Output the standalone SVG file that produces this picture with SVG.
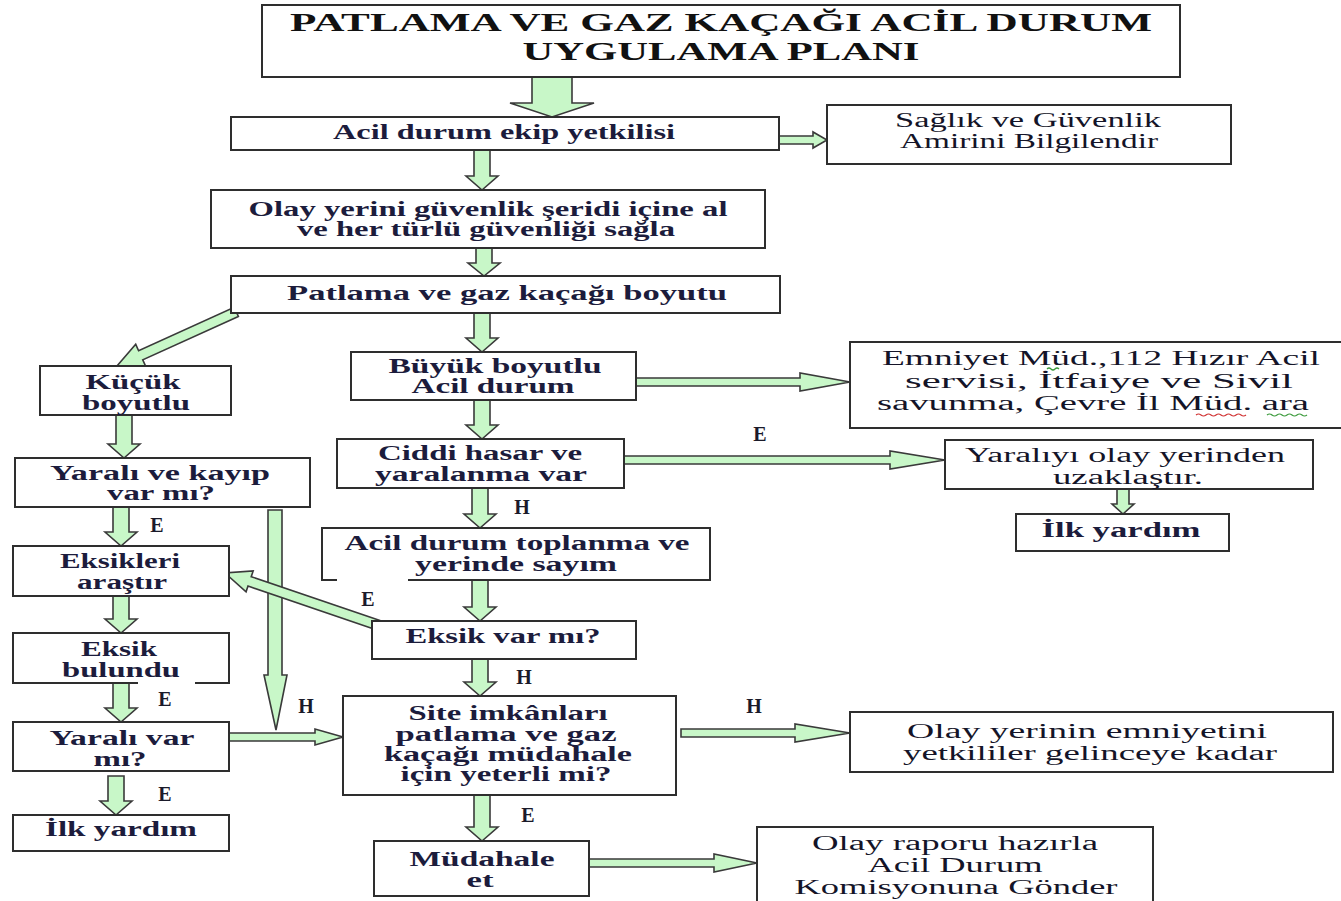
<svg xmlns="http://www.w3.org/2000/svg" width="1341" height="901" viewBox="0 0 1341 901">
<style>
.box{fill:#fff;stroke:#2e2e2e;stroke-width:2}
.edge{fill:none;stroke:#2e2e2e;stroke-width:2}
.arr{fill:#c8f7c8;stroke:#3a3a3a;stroke-width:1.6;stroke-linejoin:miter}
.t{font-family:"Liberation Serif","Times New Roman",serif;font-size:20.5px;font-weight:bold;fill:#1c1c3c;text-anchor:middle}
.n{font-weight:normal;font-size:20px;fill:#141428}
.ti{font-family:"Liberation Serif","Times New Roman",serif;font-size:25px;font-weight:bold;fill:#111;text-anchor:middle}
.lbl{font-family:"Liberation Serif","Times New Roman",serif;font-size:20px;font-weight:bold;fill:#1a1a2a;text-anchor:middle}
.sq{fill:none;stroke-width:1.2}
</style>
<rect width="1341" height="901" fill="#fff"/>

<g id="connectors">
  <polygon class="arr" points="532,77 572,77 572,103 594,103 552,117 510,103 532,103"/>
  <polygon class="arr" points="474,150 490,150 490,176 498,176 482,190 466,176 474,176"/>
  <polygon class="arr" points="476,248 492,248 492,263 500,263 484,276 468,263 476,263"/>
  <polygon class="arr" points="474,313 490,313 490,338 498,338 482,352 466,338 474,338"/>
  <polygon class="arr" points="474,400 490,400 490,425 498,425 482,439 466,425 474,425"/>
  <polygon class="arr" points="472,488 488,488 488,514 496,514 480,528 464,514 472,514"/>
  <polygon class="arr" points="472,580 488,580 488,607 496,607 480,621 464,607 472,607"/>
  <polygon class="arr" points="472,659 488,659 488,682 496,682 480,696 464,682 472,682"/>
  <polygon class="arr" points="474,795 490,795 490,827 498,827 482,841 466,827 474,827"/>
  <polygon class="arr" points="116,415 132,415 132,444 140,444 124,458 108,444 116,444"/>
  <polygon class="arr" points="113,507 129,507 129,532 137,532 121,546 105,532 113,532"/>
  <polygon class="arr" points="113,596 129,596 129,619 137,619 121,633 105,619 113,619"/>
  <polygon class="arr" points="113,683 129,683 129,708 137,708 121,722 105,708 113,708"/>
  <polygon class="arr" points="108,776 124,776 124,801 132,801 116,815 100,801 108,801"/>
  <polygon class="arr" points="1117,489 1129,489 1129,504 1134,504 1123,514 1112,504 1117,504"/>
  <polygon class="arr" points="268,510 282,510 282,675 287,675 276,730 264,675 268,675"/>
  <polygon class="arr" points="779,136 813,136 813,132 827,140 813,148 813,144 779,144"/>
  <polygon class="arr" points="636,378 800,378 800,373 850,382 800,391 800,386 636,386"/>
  <polygon class="arr" points="624,456 890,456 890,451 945,460 890,469 890,464 624,464"/>
  <polygon class="arr" points="229,733 315,733 315,729 343,737 315,745 315,741 229,741"/>
  <polygon class="arr" points="681,729 795,729 795,724 850,733 795,742 795,737 681,737"/>
  <polygon class="arr" points="589,859 714,859 714,854 757,863 714,872 714,867 589,867"/>
  <polygon class="arr" transform="translate(117,366) rotate(155.6)" points="-131,-5 -26,-5 -26,-12 0,0 -26,12 -26,5 -131,5"/>
  <polygon class="arr" transform="translate(225,573) rotate(198.8)" points="-162,-5 -26,-5 -26,-11 0,0 -26,11 -26,5 -162,5"/>
  <text class="lbl" x="760" y="441">E</text>
  <text class="lbl" x="522" y="514">H</text>
  <text class="lbl" x="157" y="532">E</text>
  <text class="lbl" x="368" y="606">E</text>
  <text class="lbl" x="524" y="684">H</text>
  <text class="lbl" x="306" y="713">H</text>
  <text class="lbl" x="165" y="706">E</text>
  <text class="lbl" x="754" y="713">H</text>
  <text class="lbl" x="165" y="801">E</text>
  <text class="lbl" x="528" y="822">E</text>
</g>

<g id="title">
  <rect class="box" x="262" y="5" width="918" height="72"/>
  <text class="ti" x="721" y="31" textLength="862" lengthAdjust="spacingAndGlyphs">PATLAMA VE GAZ KAÇAĞI ACİL DURUM</text>
  <text class="ti" x="721" y="60" textLength="397" lengthAdjust="spacingAndGlyphs">UYGULAMA PLANI</text>
</g>

<g id="acil-durum-ekip">
  <rect class="box" x="231" y="117" width="548" height="33"/>
  <text class="t" x="504" y="139" textLength="342" lengthAdjust="spacingAndGlyphs">Acil  durum ekip yetkilisi</text>
</g>

<g id="saglik-guvenlik">
  <rect class="box" x="827" y="105" width="404" height="59"/>
  <text class="t n" x="1028" y="127" textLength="266" lengthAdjust="spacingAndGlyphs">Sağlık ve Güvenlik</text>
  <text class="t n" x="1029" y="148" textLength="258" lengthAdjust="spacingAndGlyphs">Amirini  Bilgilendir</text>
</g>

<g id="olay-yerini">
  <rect class="box" x="211" y="190" width="554" height="58"/>
  <text class="t" x="488" y="216" textLength="479" lengthAdjust="spacingAndGlyphs">Olay yerini güvenlik şeridi içine al</text>
  <text class="t" x="486" y="236" textLength="378" lengthAdjust="spacingAndGlyphs">ve her türlü güvenliği  sağla</text>
</g>

<g id="patlama-boyutu">
  <rect class="box" x="231" y="276" width="549" height="37"/>
  <text class="t" x="507" y="300" textLength="440" lengthAdjust="spacingAndGlyphs">Patlama ve gaz kaçağı  boyutu</text>
</g>

<g id="kucuk-boyutlu">
  <rect class="box" x="40" y="366" width="191" height="49"/>
  <text class="t" x="133" y="389" textLength="95" lengthAdjust="spacingAndGlyphs">Küçük</text>
  <text class="t" x="136" y="410" textLength="108" lengthAdjust="spacingAndGlyphs">boyutlu</text>
</g>

<g id="buyuk-boyutlu">
  <rect class="box" x="351" y="352" width="285" height="48"/>
  <text class="t" x="495" y="373" textLength="213" lengthAdjust="spacingAndGlyphs">Büyük boyutlu</text>
  <text class="t" x="493" y="393" textLength="163" lengthAdjust="spacingAndGlyphs">Acil  durum</text>
</g>

<g id="emniyet">
  <rect class="box" x="850" y="342" width="495" height="86"/>
  <text class="t n" x="1101" y="365" textLength="438" lengthAdjust="spacingAndGlyphs">Emniyet Müd.,112 Hızır Acil</text>
  <text class="t n" x="1099" y="388" textLength="388" lengthAdjust="spacingAndGlyphs">servisi, İtfaiye ve Sivil</text>
  <text class="t n" x="1093" y="410" textLength="432" lengthAdjust="spacingAndGlyphs">savunma,  Çevre İl Müd. ara</text>
  <path class="sq" stroke="#3a9a3a" d="M1047,369 q2,-2 4,0 t4,0 t4,0"/>
  <path class="sq" stroke="#d03030" d="M1196,415 q2.5,-2 5,0 t5,0 t5,0 t5,0 t5,0 t5,0 t5,0 t5,0 t5,0 t5,0"/>
  <path class="sq" stroke="#3a9a3a" d="M1267,415 q2.5,-2 5,0 t5,0 t5,0 t5,0 t5,0 t5,0 t5,0 t5,0"/>
</g>

<g id="ciddi-hasar">
  <rect class="box" x="337" y="439" width="287" height="49"/>
  <text class="t" x="480" y="460" textLength="204" lengthAdjust="spacingAndGlyphs">Ciddi hasar ve</text>
  <text class="t" x="481" y="481" textLength="212" lengthAdjust="spacingAndGlyphs">yaralanma var</text>
</g>

<g id="yaraliyi-uzaklastir">
  <rect class="box" x="945" y="440" width="368" height="49"/>
  <text class="t n" x="1125" y="462" textLength="320" lengthAdjust="spacingAndGlyphs">Yaralıyı olay yerinden</text>
  <text class="t n" x="1128" y="484" textLength="150" lengthAdjust="spacingAndGlyphs">uzaklaştır.</text>
</g>

<g id="ilk-yardim-sag">
  <rect class="box" x="1016" y="514" width="213" height="37"/>
  <text class="t" x="1121" y="537" textLength="159" lengthAdjust="spacingAndGlyphs">İlk yardım</text>
</g>

<g id="yarali-kayip">
  <rect class="box" x="15" y="458" width="295" height="49"/>
  <text class="t" x="160" y="480" textLength="220" lengthAdjust="spacingAndGlyphs">Yaralı ve kayıp</text>
  <text class="t" x="161" y="500" textLength="108" lengthAdjust="spacingAndGlyphs">var mı?</text>
</g>

<g id="toplanma-sayim">
  <path class="edge" d="M337,580 L322,580 L322,528 L710,528 L710,580 L408,580"/>
  <text class="t" x="517" y="550" textLength="345" lengthAdjust="spacingAndGlyphs">Acil  durum toplanma ve</text>
  <text class="t" x="516" y="571" textLength="202" lengthAdjust="spacingAndGlyphs">yerinde sayım</text>
</g>

<g id="eksikleri-arastir">
  <rect class="box" x="13" y="546" width="216" height="50"/>
  <text class="t" x="120" y="568" textLength="120" lengthAdjust="spacingAndGlyphs">Eksikleri</text>
  <text class="t" x="122" y="589" textLength="90" lengthAdjust="spacingAndGlyphs">araştır</text>
</g>

<g id="eksik-var-mi">
  <rect class="box" x="372" y="621" width="264" height="38"/>
  <text class="t" x="503" y="643" textLength="195" lengthAdjust="spacingAndGlyphs">Eksik var mı?</text>
</g>

<g id="eksik-bulundu">
  <path class="edge" d="M138,683 L13,683 L13,633 L229,633 L229,683 L195,683"/>
  <text class="t" x="119" y="656" textLength="76" lengthAdjust="spacingAndGlyphs">Eksik</text>
  <text class="t" x="121" y="677" textLength="118" lengthAdjust="spacingAndGlyphs">bulundu</text>
</g>

<g id="site-imkanlari">
  <rect class="box" x="343" y="696" width="333" height="99"/>
  <text class="t" x="508" y="720" textLength="199" lengthAdjust="spacingAndGlyphs">Site imkânları</text>
  <text class="t" x="506" y="741" textLength="221" lengthAdjust="spacingAndGlyphs">patlama ve gaz</text>
  <text class="t" x="508" y="761" textLength="248" lengthAdjust="spacingAndGlyphs">kaçağı müdahale</text>
  <text class="t" x="506" y="781" textLength="211" lengthAdjust="spacingAndGlyphs">için yeterli mi?</text>
</g>

<g id="olay-yerinin-emniyeti">
  <rect class="box" x="850" y="712" width="483" height="60"/>
  <text class="t n" x="1087" y="738" textLength="360" lengthAdjust="spacingAndGlyphs">Olay yerinin emniyetini</text>
  <text class="t n" x="1090" y="760" textLength="374" lengthAdjust="spacingAndGlyphs">yetkililer gelinceye kadar</text>
</g>

<g id="yarali-var-mi">
  <rect class="box" x="13" y="722" width="216" height="49"/>
  <text class="t" x="122" y="745" textLength="145" lengthAdjust="spacingAndGlyphs">Yaralı var</text>
  <text class="t" x="120" y="766" textLength="53" lengthAdjust="spacingAndGlyphs">mı?</text>
</g>

<g id="ilk-yardim-sol">
  <rect class="box" x="13" y="815" width="216" height="36"/>
  <text class="t" x="121" y="836" textLength="152" lengthAdjust="spacingAndGlyphs">İlk yardım</text>
</g>

<g id="mudahale-et">
  <rect class="box" x="374" y="841" width="215" height="55"/>
  <text class="t" x="482" y="866" textLength="145" lengthAdjust="spacingAndGlyphs">Müdahale</text>
  <text class="t" x="480" y="887" textLength="27" lengthAdjust="spacingAndGlyphs">et</text>
</g>

<g id="olay-raporu">
  <rect class="box" x="757" y="827" width="396" height="80"/>
  <text class="t n" x="955" y="850" textLength="286" lengthAdjust="spacingAndGlyphs">Olay raporu hazırla</text>
  <text class="t n" x="955" y="872" textLength="175" lengthAdjust="spacingAndGlyphs">Acil Durum</text>
  <text class="t n" x="956" y="894" textLength="323" lengthAdjust="spacingAndGlyphs">Komisyonuna Gönder</text>
</g>
</svg>
